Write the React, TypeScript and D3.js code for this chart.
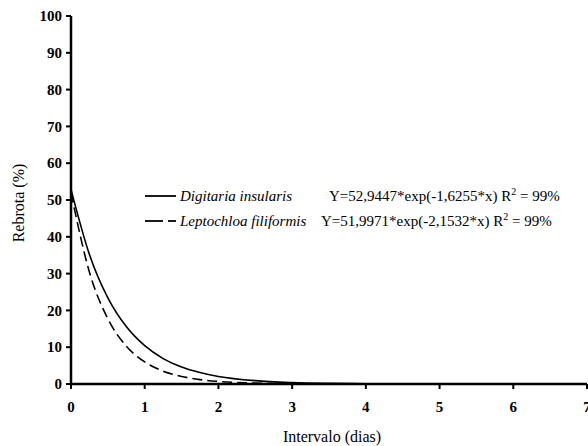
import React from "react";
import * as d3 from "d3";

// values
const xs = [0, 0.25, 0.5, 0.75, 1, 1.25, 1.5, 1.75, 2, 2.5, 3, 3.5, 4, 5, 6, 7];
const digitaria = [52.9, 35.2, 23.4, 15.6, 10.4, 6.9, 4.6, 3.1, 2.05, 0.91, 0.4, 0.18, 0.08, 0.02, 0.0, 0.0];
const leptochloa = [52.0, 30.4, 17.7, 10.3, 6.0, 3.5, 2.05, 1.2, 0.7, 0.24, 0.08, 0.03, 0.01, 0.0, 0.0, 0.0];
const xTicks = [0, 1, 2, 3, 4, 5, 6, 7];
const yTicks = [0, 10, 20, 30, 40, 50, 60, 70, 80, 90, 100];
const legendNames = ["Digitaria insularis", "Leptochloa filiformis"];
const legendEq = ["Y=52,9447*exp(-1,6255*x) R", "Y=51,9971*exp(-2,1532*x) R"];

const FONT = "Liberation Serif";

const x = d3.scaleLinear().domain([0, 7]).range([71, 587]);
const y = d3.scaleLinear().domain([0, 100]).range([384, 16]);

const line = d3
  .line<number>()
  .x((d, i) => x(xs[i]))
  .y((d) => y(d))
  .curve(d3.curveMonotoneX);

const App = () => {
  const rows = [196, 221];
  return (
    <svg
      width={588}
      height={446}
      style={{ position: "absolute", left: 0, top: 0, background: "#fff", fontFamily: FONT }}
    >
      <path d={line(digitaria) || ""} fill="none" stroke="#000" strokeWidth={1.6} />
      <path d={line(leptochloa) || ""} fill="none" stroke="#000" strokeWidth={1.6} strokeDasharray="10,5" />

      {/* y axis */}
      <line x1={x(0)} x2={x(0)} y1={y(100)} y2={y(0)} stroke="#000" strokeWidth={2.5} />
      {yTicks.map((t) => (
        <g key={"y" + t}>
          <line x1={x(0) - 5} x2={x(0)} y1={y(t)} y2={y(t)} stroke="#000" strokeWidth={2} />
          <text x={x(0) - 9} y={y(t)} dy="0.35em" textAnchor="end"
            style={{ fontSize: "15px", fontWeight: "bold" }}>{t}</text>
        </g>
      ))}

      {/* x axis */}
      <line x1={x(0)} x2={x(7)} y1={y(0)} y2={y(0)} stroke="#000" strokeWidth={2.5} />
      {xTicks.map((t) => (
        <g key={"x" + t}>
          <line x1={x(t)} x2={x(t)} y1={y(0)} y2={y(0) + 5} stroke="#000" strokeWidth={2} />
          <text x={x(t)} y={y(0) + 28} textAnchor="middle"
            style={{ fontSize: "15px", fontWeight: "bold" }}>{t}</text>
        </g>
      ))}

      <text x={332} y={442} textAnchor="middle" style={{ fontSize: "16px" }}>
        Intervalo (dias)
      </text>
      <text transform="translate(24,203) rotate(-90)" textAnchor="middle" style={{ fontSize: "16px" }}>
        Rebrota (%)
      </text>

      {/* legend */}
      {rows.map((ry, i) => (
        <g key={"l" + i}>
          {i === 0 ? (
            <line x1={145} x2={176} y1={ry} y2={ry} stroke="#000" strokeWidth={1.8} />
          ) : (
            <>
              <line x1={145} x2={163} y1={ry} y2={ry} stroke="#000" strokeWidth={1.8} />
              <line x1={168} x2={176} y1={ry} y2={ry} stroke="#000" strokeWidth={1.8} />
            </>
          )}
          <text x={180} y={ry + 5} style={{ fontSize: "15px", fontStyle: "italic" }}>
            {legendNames[i]}
          </text>
          <text x={i === 0 ? 329 : 321} y={ry + 5} style={{ fontSize: "15px" }}>
            <tspan>{legendEq[i]}</tspan>
            <tspan dy={-6} style={{ fontSize: "10px" }}>2</tspan>
            <tspan dy={6}> = 99%</tspan>
          </text>
        </g>
      ))}
    </svg>
  );
};

export default App;
